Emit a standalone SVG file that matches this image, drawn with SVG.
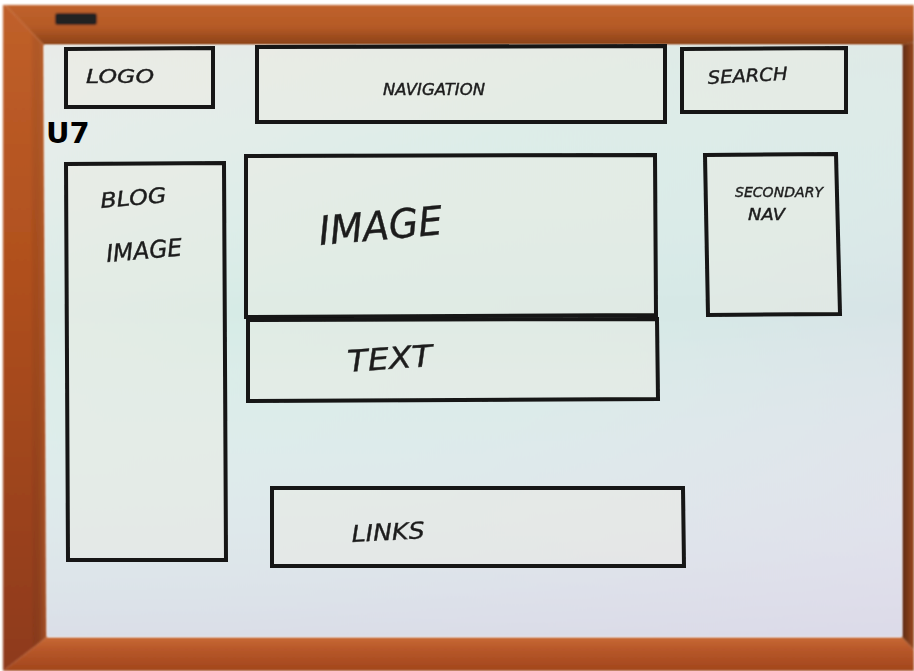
<svg xmlns="http://www.w3.org/2000/svg" width="914" height="671" viewBox="0 0 914 671">
<defs>
<linearGradient id="frameTop" x1="0" y1="0" x2="0" y2="1">
<stop offset="0" stop-color="#c0622c"/><stop offset="0.55" stop-color="#b55a26"/><stop offset="1" stop-color="#8a4117"/>
</linearGradient>
<linearGradient id="frameLeft" x1="0" y1="0" x2="0" y2="1">
<stop offset="0" stop-color="#c0602a"/><stop offset="0.4" stop-color="#b0501e"/><stop offset="1" stop-color="#8e3a1a"/>
</linearGradient>
<linearGradient id="frameLeftLip" x1="0" y1="0" x2="1" y2="0">
<stop offset="0" stop-color="#000" stop-opacity="0"/><stop offset="1" stop-color="#e08a50" stop-opacity="0.35"/>
</linearGradient>
<linearGradient id="frameBottom" x1="0" y1="0" x2="0" y2="1">
<stop offset="0" stop-color="#c86a34"/><stop offset="0.35" stop-color="#b8582a"/><stop offset="1" stop-color="#a2461c"/>
</linearGradient>
<linearGradient id="frameRight" x1="0" y1="0" x2="1" y2="0">
<stop offset="0" stop-color="#5e2a14"/><stop offset="1" stop-color="#9a4a1e"/>
</linearGradient>
<linearGradient id="board" x1="0" y1="0" x2="1" y2="1">
<stop offset="0" stop-color="#e4ebe8"/><stop offset="0.35" stop-color="#d6ebe6"/><stop offset="0.6" stop-color="#d6e8e6"/><stop offset="1" stop-color="#dcdbe8"/>
</linearGradient>
<linearGradient id="boardShade" x1="0" y1="0" x2="0" y2="1">
<stop offset="0" stop-color="#f0ebe8" stop-opacity="0.35"/><stop offset="0.45" stop-color="#ffffff" stop-opacity="0"/><stop offset="1" stop-color="#dcdae8" stop-opacity="0.7"/>
</linearGradient>
<filter id="soft" x="-2%" y="-2%" width="104%" height="104%"><feGaussianBlur stdDeviation="0.8"/></filter>
<filter id="softer" x="-5%" y="-5%" width="110%" height="110%"><feGaussianBlur stdDeviation="0.6"/></filter>
</defs>
<style>
.box{fill:#eeebe0;fill-opacity:0.4;stroke:#141414;stroke-width:4;stroke-linejoin:miter}
.hand{font-family:"DejaVu Sans","Liberation Sans",sans-serif;font-style:italic;font-weight:normal;fill:#1e1e1e;stroke:#1e1e1e;stroke-width:0.4}
.u7{font-family:"DejaVu Sans","Liberation Sans",sans-serif;font-weight:bold;fill:#000;}
</style>
<rect x="0" y="0" width="914" height="671" fill="#ffffff"/>
<g id="frame" filter="url(#soft)">
<polygon points="5,5 914,5 914,42 902,45 44,45" fill="url(#frameTop)"/>
<polygon points="5,5 44,45 47,637 3,671 3,5" fill="url(#frameLeft)"/>
<polygon points="30,32 44,45 47,637 32,650" fill="url(#frameLeftLip)"/>
<polygon points="3,671 47,637 902,637 914,650 914,671" fill="url(#frameBottom)"/>
<polygon points="902,45 914,42 914,650 902,637" fill="url(#frameRight)"/>
<rect x="55" y="13" width="42" height="12" rx="3" fill="#222222"/>
</g>
<g id="board-surface" filter="url(#soft)">
<polygon points="44,45 902,45 902,637 47,637" fill="url(#board)"/>
<polygon points="44,45 902,45 902,637 47,637" fill="url(#boardShade)"/>
</g>
<g id="connectors"></g>
<g id="logo" filter="url(#softer)">
<polygon class="box" points="66,49 213,48 213,107 66,107"/>
<text class="hand" x="86" y="83" font-size="20" textLength="68" lengthAdjust="spacingAndGlyphs">LOGO</text>
</g>
<g id="navigation" filter="url(#softer)">
<polygon class="box" points="257,47 665,46 665,122 257,122"/>
<text class="hand" x="383" y="95" font-size="15" textLength="102" lengthAdjust="spacingAndGlyphs">NAVIGATION</text>
</g>
<g id="search" filter="url(#softer)">
<polygon class="box" points="682,49 846,48 846,112 682,112"/>
<text class="hand" x="708" y="84" font-size="18" textLength="80" lengthAdjust="spacingAndGlyphs" transform="rotate(-3 708 84)">SEARCH</text>
</g>
<g id="u7-label">
<text class="u7" x="46" y="143" font-size="29">U7</text>
</g>
<g id="blog-image" filter="url(#softer)">
<polygon class="box" points="66,164 224,163 226,560 68,560"/>
<text class="hand" x="101" y="208" font-size="21" textLength="66" lengthAdjust="spacingAndGlyphs" transform="rotate(-5 101 208)">BLOG</text>
<text class="hand" x="107" y="262" font-size="24" textLength="76" lengthAdjust="spacingAndGlyphs" transform="rotate(-5 107 262)">IMAGE</text>
</g>
<g id="image" filter="url(#softer)">
<polygon class="box" points="246,156 655,155 656,315 246,317"/>
<text class="hand" x="320" y="245" font-size="40" textLength="124" lengthAdjust="spacingAndGlyphs" transform="rotate(-5 320 245)">IMAGE</text>
</g>
<g id="text" filter="url(#softer)">
<polygon class="box" points="248,320 657,319 658,399 248,401"/>
<text class="hand" x="348" y="372" font-size="30" textLength="85" lengthAdjust="spacingAndGlyphs" transform="rotate(-4 348 372)">TEXT</text>
</g>
<g id="secondary-nav" filter="url(#softer)">
<polygon class="box" points="705,155 836,154 840,314 708,315"/>
<text class="hand" x="735" y="197" font-size="14" textLength="88" lengthAdjust="spacingAndGlyphs">SECONDARY</text>
<text class="hand" x="748" y="220" font-size="15" textLength="37" lengthAdjust="spacingAndGlyphs">NAV</text>
</g>
<g id="links" filter="url(#softer)">
<polygon class="box" points="272,488 683,488 684,566 272,566"/>
<text class="hand" x="352" y="542" font-size="23" textLength="73" lengthAdjust="spacingAndGlyphs" transform="rotate(-3 352 542)">LINKS</text>
</g>
</svg>
